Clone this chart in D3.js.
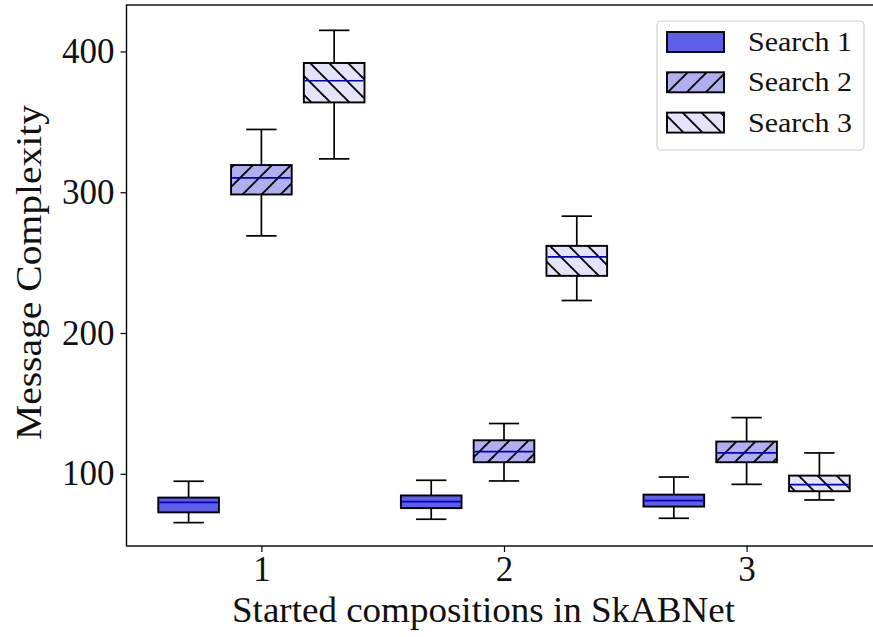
<!DOCTYPE html>
<html>
<head>
<meta charset="utf-8">
<script src="https://cdn.jsdelivr.net/npm/d3@7"></script>
<style>
  body { margin: 0; background: #fff; }
  svg { display: block; font-family: "Liberation Serif", "DejaVu Serif", serif; }
</style>
</head>
<body>
<div id="chart"></div>
<script>
// categories on the x axis
var categories = [1, 2, 3];
var seriesNames = ["Search 1", "Search 2", "Search 3"];
var yTicks = [100, 200, 300, 400];

// box stats per category: [whisker low, q1, median, q3, whisker high]
var search1Stats = [
    [65.3, 72.6, 79.7, 83.1, 94.7],
    [67.7, 75.6, 80.2, 84.6, 95.4],
    [68.4, 76.7, 81.0, 85.2, 97.7]
];
var search2Stats = [
    [269.0, 298.4, 310.2, 319.3, 344.6],
    [94.9, 108.2, 115.8, 123.8, 135.7],
    [92.5, 108.2, 114.8, 122.9, 139.9]
];
var search3Stats = [
    [323.7, 363.8, 379.2, 391.8, 415.0],
    [223.1, 240.6, 254.1, 261.9, 283.0],
    [81.4, 87.6, 92.3, 98.7, 114.8]
];

var allStats = [search1Stats, search2Stats, search3Stats];
var offsets = [-0.3, 0, 0.3];
var fills = ["#5e5ee8", "#afaff2", "#e3e3fa"];
var hatches = [null, "fwd", "back"];
var boxWidth = 0.25;

var W = 873, H = 637;
var plot = {left: 126.5, top: 5, right: 881.5, bottom: 546};

var x = d3.scaleLinear().domain([0.444, 3.556]).range([plot.left, plot.right]);
var y = d3.scaleLinear().domain([48.7, 433]).range([plot.bottom, plot.top]);

var svg = d3.select("#chart").append("svg")
    .attr("width", W)
    .attr("height", H)
    .style("overflow", "hidden");

// hatch patterns
var defs = svg.append("defs");
function hatch(id, dir, bg) {
    var s = 19;
    var p = defs.append("pattern")
        .attr("id", id)
        .attr("patternUnits", "userSpaceOnUse")
        .attr("width", s).attr("height", s);
    p.append("rect").attr("width", s).attr("height", s).attr("fill", bg);
    var lines = dir == "fwd"
        ? [[0, s, s, 0], [-s / 2, s / 2, s / 2, -s / 2], [s / 2, s * 1.5, s * 1.5, s / 2]]
        : [[0, 0, s, s], [-s / 2, s / 2, s / 2, s * 1.5], [s / 2, -s / 2, s * 1.5, s / 2]];
    lines.forEach(function (l) {
        p.append("line")
            .attr("x1", l[0]).attr("y1", l[1]).attr("x2", l[2]).attr("y2", l[3])
            .attr("stroke", "#000").attr("stroke-width", 1.9);
    });
}
hatch("h2", "fwd", fills[1]);
hatch("h3", "back", fills[2]);

function fillFor(i) {
    return hatches[i] ? "url(#h" + (i + 1) + ")" : fills[i];
}

// boxes
allStats.forEach(function (stats, si) {
    var g = svg.append("g").attr("class", "series");
    stats.forEach(function (d, ci) {
        var cx = categories[ci] + offsets[si];
        var x0 = x(cx - boxWidth / 2), x1 = x(cx + boxWidth / 2);
        var c0 = x(cx - boxWidth / 4), c1 = x(cx + boxWidth / 4);
        var xm = x(cx);
        // whiskers
        g.append("line").attr("x1", xm).attr("x2", xm)
            .attr("y1", y(d[0])).attr("y2", y(d[1]))
            .attr("stroke", "#000").attr("stroke-width", 1.7);
        g.append("line").attr("x1", xm).attr("x2", xm)
            .attr("y1", y(d[3])).attr("y2", y(d[4]))
            .attr("stroke", "#000").attr("stroke-width", 1.7);
        // caps
        [d[0], d[4]].forEach(function (v) {
            g.append("line").attr("x1", c0).attr("x2", c1)
                .attr("y1", y(v)).attr("y2", y(v))
                .attr("stroke", "#000").attr("stroke-width", 1.7);
        });
        g.append("rect")
            .attr("x", x0).attr("y", y(d[3]))
            .attr("width", x1 - x0).attr("height", y(d[1]) - y(d[3]))
            .attr("fill", fillFor(si))
            .attr("stroke", "#000").attr("stroke-width", 1.9);
        g.append("line").attr("x1", x0 + 1).attr("x2", x1 - 1)
            .attr("y1", y(d[2])).attr("y2", y(d[2]))
            .attr("stroke", "#0000bb").attr("stroke-width", 1.7);
    });
});

// frame
svg.append("rect")
    .attr("x", plot.left).attr("y", plot.top)
    .attr("width", plot.right - plot.left).attr("height", plot.bottom - plot.top)
    .attr("fill", "none").attr("stroke", "#000").attr("stroke-width", 1.4);

// axes
var xAxis = d3.axisBottom(x).tickValues(categories).tickSize(6).tickPadding(4).tickFormat(d3.format("d"));
var yAxis = d3.axisLeft(y).tickValues(yTicks).tickSize(6).tickPadding(6);

var gx = svg.append("g").attr("transform", "translate(0," + plot.bottom + ")").call(xAxis);
var gy = svg.append("g").attr("transform", "translate(" + plot.left + ",0)").call(yAxis);
[gx, gy].forEach(function (g) {
    g.select(".domain").remove();
    g.selectAll(".tick line").attr("stroke", "#000").attr("stroke-width", 1.2);
    g.selectAll(".tick text").attr("fill", "#111").style("font-size", "35px")
        .style("font-family", "'Liberation Serif', serif");
});

// axis labels (stretched a little to the width of the LaTeX font)
svg.append("text")
    .attr("x", 483.5)
    .attr("y", 622)
    .attr("text-anchor", "middle")
    .attr("textLength", 503)
    .attr("lengthAdjust", "spacingAndGlyphs")
    .style("font-size", "35px")
    .attr("fill", "#111")
    .text("Started compositions in SkABNet");

svg.append("text")
    .attr("transform", "translate(41,272.5) rotate(-90)")
    .attr("text-anchor", "middle")
    .attr("textLength", 335)
    .attr("lengthAdjust", "spacingAndGlyphs")
    .style("font-size", "35px")
    .attr("fill", "#111")
    .text("Message Complexity");

// legend
var leg = svg.append("g").attr("class", "legend");
leg.append("rect")
    .attr("x", 657).attr("y", 21)
    .attr("width", 207).attr("height", 129)
    .attr("rx", 4)
    .attr("fill", "#fff").attr("fill-opacity", 0.8)
    .attr("stroke", "#d0d0d0").attr("stroke-width", 1.2);
seriesNames.forEach(function (name, i) {
    var yy = 32 + i * 40.3;
    leg.append("rect")
        .attr("x", 667).attr("y", yy)
        .attr("width", 57).attr("height", 20)
        .attr("fill", fillFor(i))
        .attr("stroke", "#000").attr("stroke-width", 1.9);
    leg.append("text")
        .attr("x", 748).attr("y", yy + 19)
        .attr("textLength", 104)
        .attr("lengthAdjust", "spacingAndGlyphs")
        .style("font-size", "28px")
        .attr("fill", "#111")
        .text(name);
});
</script>
</body>
</html>
